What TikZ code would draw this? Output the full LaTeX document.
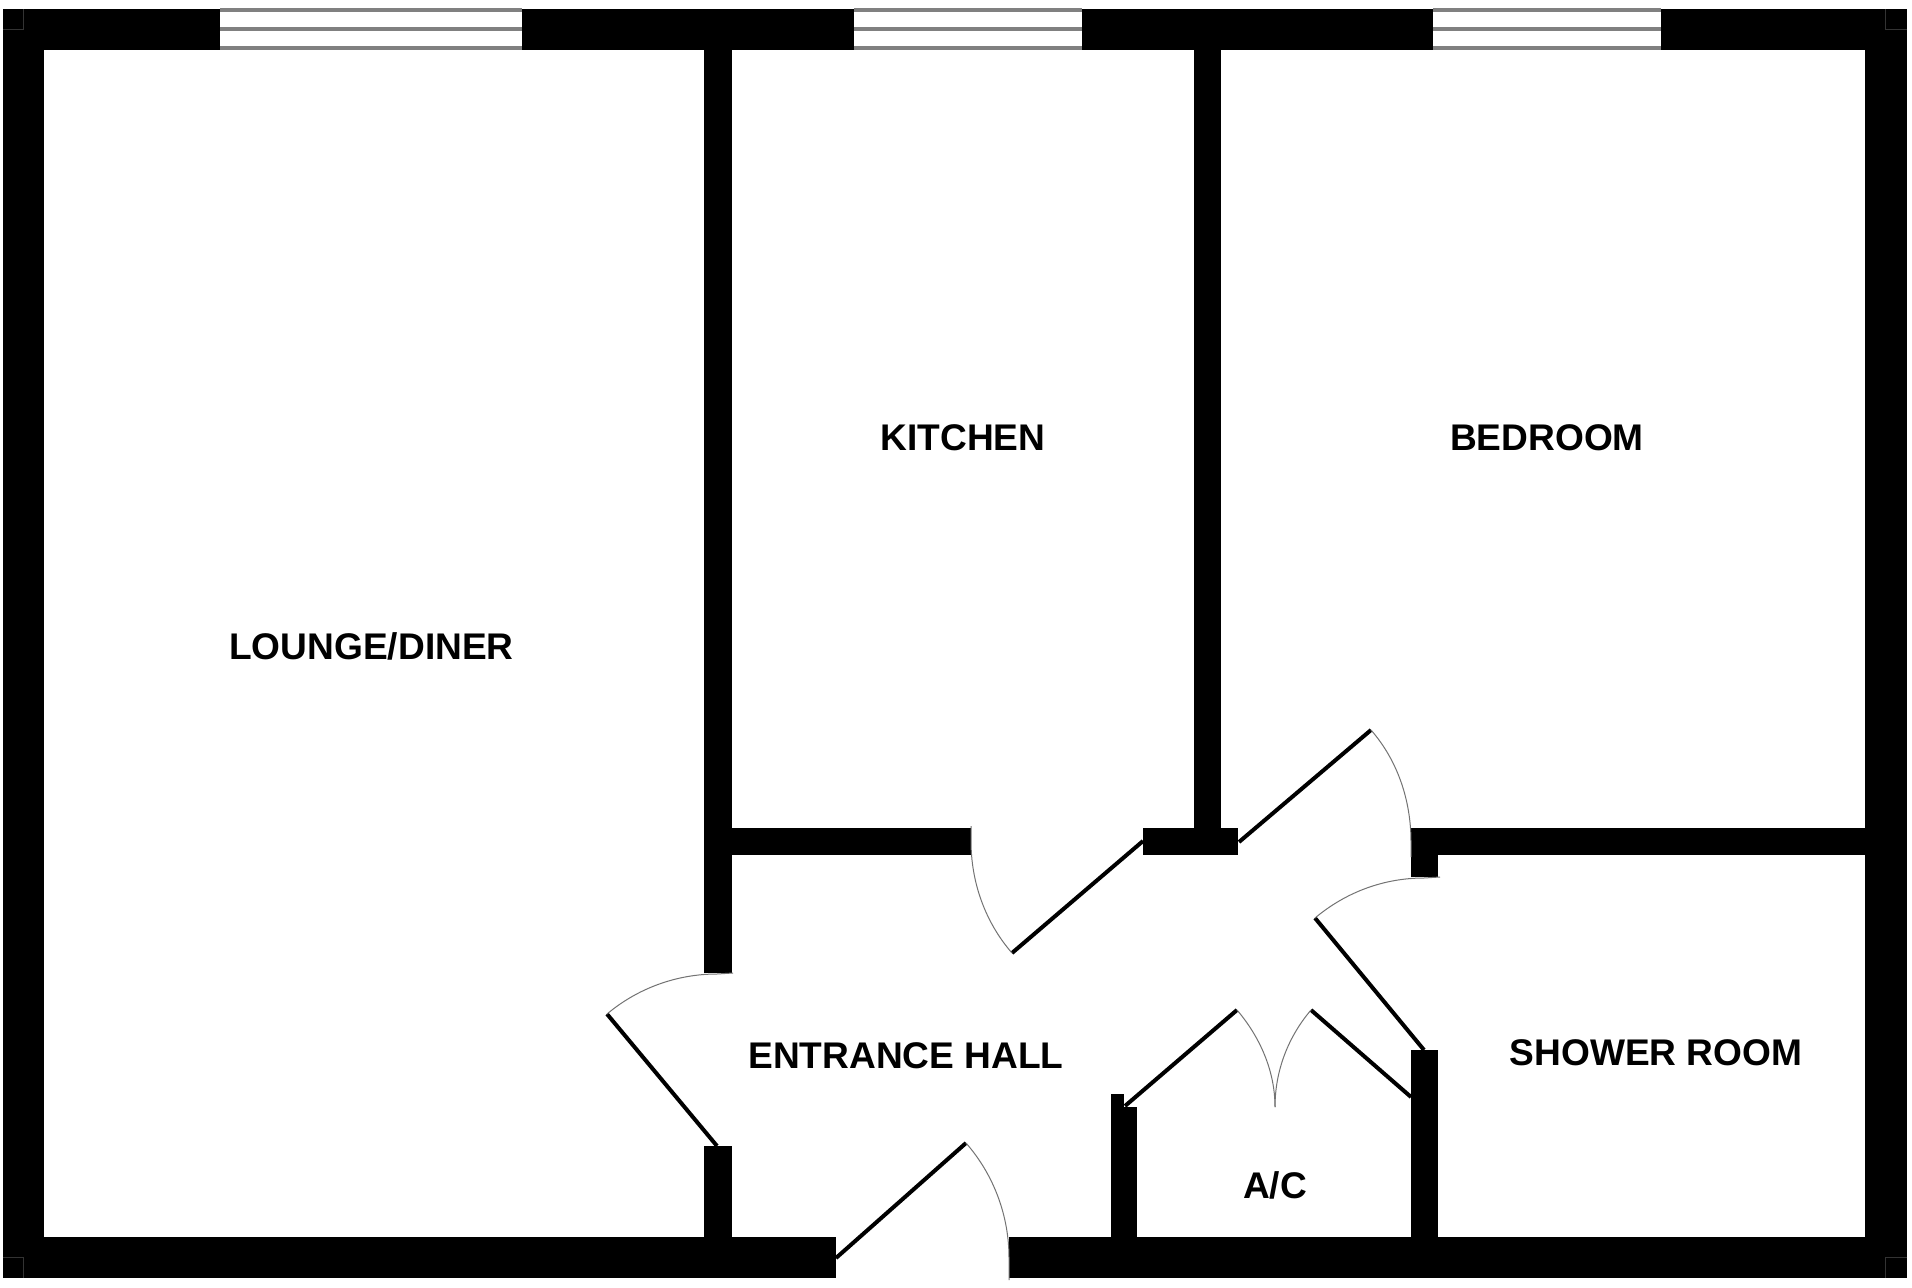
\documentclass[tikz,border=0pt]{standalone}
\usepackage{fontspec}
\setmainfont{Liberation Sans}
\tikzset{
  wall/.style={fill=black},
  leaf/.style={draw=black,line width=4pt},
  swing/.style={draw=black!55,line width=1pt},
  pane/.style={draw=black!50,line width=4pt},
  seam/.style={draw=black!80,line width=.8pt},
  room/.style={font=\fontsize{37.1}{40}\selectfont\bfseries,text depth=0pt,inner sep=0pt}
}
\begin{document}
\begin{tikzpicture}[x=1pt,y=-1pt]
\useasboundingbox (0,0) rectangle (1912,1288);
\fill[white] (0,0) rectangle (1912,1288);
% outer walls
\path[wall] (3,9) rectangle (1907,50);
\path[wall] (3,1237) rectangle (836,1278);
\path[wall] (1009,1237) rectangle (1907,1278);
\path[wall] (3,9) rectangle (44,1278);
\path[wall] (1865,9) rectangle (1907,1278);
% inner walls
\path[wall] (704,50) rectangle (731.5,973);
\path[wall] (704,1146) rectangle (731.5,1237);
\path[wall] (704,828) rectangle (971,855);
\path[wall] (1194,50) rectangle (1221,828);
\path[wall] (1143,828) rectangle (1238,855);
\path[wall] (1411,828) rectangle (1865,855);
\path[wall] (1411,855) rectangle (1438,877);
\path[wall] (1411,1050) rectangle (1438,1237);
\path[wall] (1111,1107) rectangle (1137,1237);
\path[wall] (1111,1094) rectangle (1124,1107);
% windows
\foreach \xa/\xb in {220/522,854/1082,1433/1661} {
  \fill[white] (\xa,9) rectangle (\xb,50);
  \foreach \ya in {10,29,48}
    \draw[pane] (\xa,\ya) -- (\xb,\ya);
}
% corner marks
\draw[seam] (3,29) -- (23.5,29) -- (23.5,9);
\draw[seam] (1907,29) -- (1885,29) -- (1885,9);
\draw[seam] (3,1257) -- (23.5,1257) -- (23.5,1278);
\draw[seam] (1907,1257) -- (1885,1257) -- (1885,1278);
% doors
\coordinate (fronthinge) at (836,1258);
\coordinate (fronttip) at (966,1143);
\draw[leaf] (fronthinge) -- (fronttip);
\draw[swing] (fronttip) .. controls +(28,32) and +(0,-42) .. (1009,1258) -- (1009,1280);
\coordinate (loungehinge) at (717,1146);
\coordinate (loungetip) at (607,1014);
\draw[leaf] (loungehinge) -- (loungetip);
\draw[swing] (loungetip) .. controls +(31,-26) and +(-40,0) .. (717,974) -- (733,973);
\coordinate (kitchenhinge) at (1143,841);
\coordinate (kitchentip) at (1012,953);
\draw[leaf] (kitchenhinge) -- (kitchentip);
\draw[swing] (971,826) -- (971,841) .. controls +(0,41) and +(-27,-31) .. (kitchentip);
\coordinate (bedhinge) at (1239,842);
\coordinate (bedtip) at (1371,730);
\draw[leaf] (bedhinge) -- (bedtip);
\draw[swing] (bedtip) .. controls +(27,31) and +(0,-41) .. (1411,842) -- (1411,857);
\coordinate (showerhinge) at (1424,1050);
\coordinate (showertip) at (1315,918);
\draw[leaf] (showerhinge) -- (showertip);
\draw[swing] (showertip) .. controls +(31,-26) and +(-40,0) .. (1424,878) -- (1440,877);
\coordinate (cupboardmid) at (1275,1107);
\coordinate (cupboardlhinge) at (1125,1106);
\coordinate (cupboardltip) at (1237,1010);
\draw[leaf] (cupboardlhinge) -- (cupboardltip);
\draw[swing] (cupboardltip) .. controls +(23,27) and +(0,-36) .. (cupboardmid);
\coordinate (cupboardrhinge) at (1411,1097);
\coordinate (cupboardrtip) at (1311,1010);
\draw[leaf] (cupboardrhinge) -- (cupboardrtip);
\draw[swing] (cupboardrtip) .. controls +(-23,27) and +(0,-36) .. (cupboardmid);
% rooms
\node[room] (lounge) at (371.5,646) {LOUNGE/DINER};
\node[room] (kitchen) at (963,438) {KITCHEN};
\node[room] (bedroom) at (1547,438) {BEDROOM};
\node[room] (hall) at (906,1056) {ENTRANCE HALL};
\node[room] (shower) at (1656,1053) {SHOWER ROOM};
\node[room] (cupboard) at (1275,1185) {A/C};
\end{tikzpicture}
\end{document}
